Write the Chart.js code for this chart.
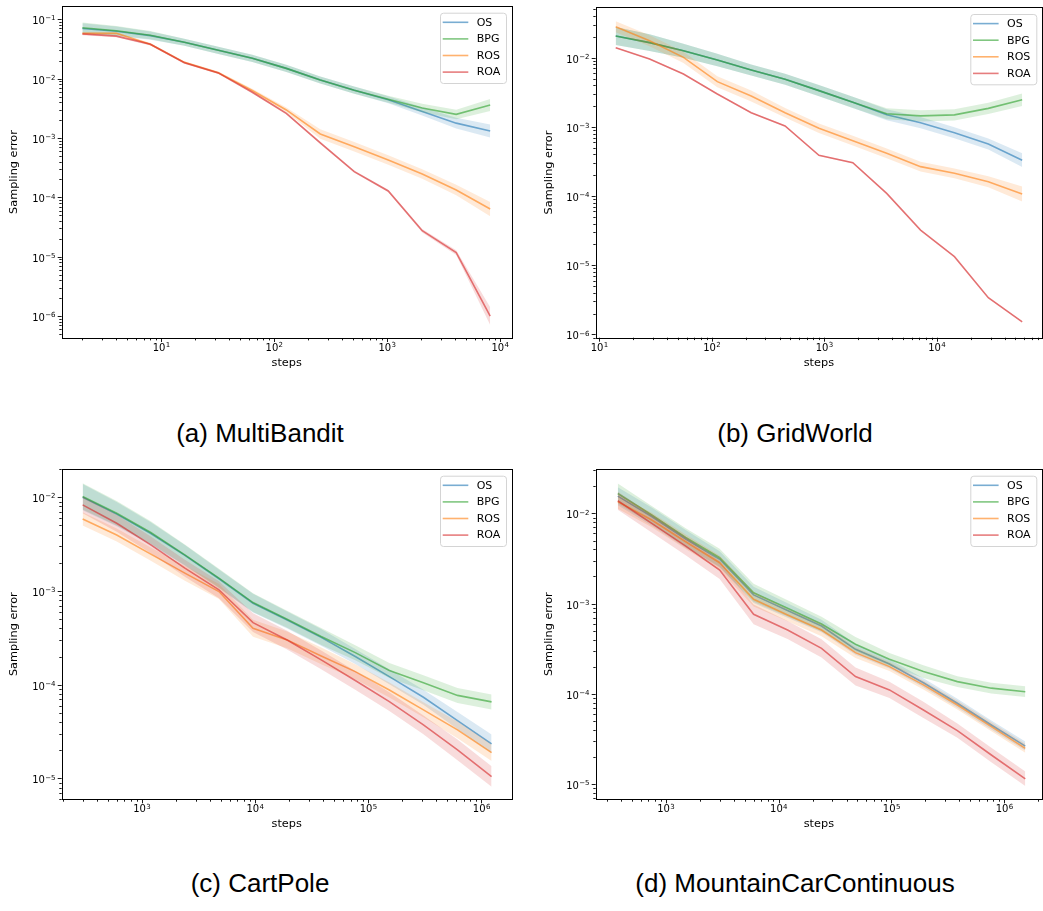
<!DOCTYPE html>
<html><head><meta charset="utf-8">
<script src="https://cdn.jsdelivr.net/npm/chart.js@4.4.1/dist/chart.umd.min.js"></script>
<style>
html,body{margin:0;padding:0;background:#fff;}
body{width:1043px;height:911px;position:relative;overflow:hidden;}
canvas{position:absolute;}
.cap{position:absolute;font-family:'Liberation Sans',Arial,sans-serif;font-size:26px;line-height:26px;white-space:nowrap;transform:translateX(-50%);color:#000;}
</style></head><body>
<canvas id="cA" width="520" height="380" style="left:0px;top:0px"></canvas>
<canvas id="cB" width="523" height="380" style="left:520px;top:0px"></canvas>
<canvas id="cC" width="520" height="380" style="left:0px;top:460px"></canvas>
<canvas id="cD" width="523" height="380" style="left:520px;top:460px"></canvas>
<div class="cap" style="left:260px;top:420px">(a) MultiBandit</div>
<div class="cap" style="left:795px;top:420px">(b) GridWorld</div>
<div class="cap" style="left:260px;top:870px">(c) CartPole</div>
<div class="cap" style="left:795px;top:870px">(d) MountainCarContinuous</div>
<script>
// ---------- data ----------
const seriesNames = ['OS', 'BPG', 'ROS', 'ROA'];
const seriesColors = ['31,119,180', '44,160,44', '255,127,14', '214,39,40'];

// (a) MultiBandit
const stepsA = [2, 4, 8, 16, 32, 64, 128, 256, 512, 1024, 2048, 4096, 8192];
const osA  = [0.070, 0.063, 0.053, 0.041, 0.030, 0.022, 0.0149, 0.0095, 0.0064, 0.0044, 0.0028, 0.00178, 0.00131];
const bpgA = [0.072, 0.064, 0.054, 0.041, 0.030, 0.022, 0.0149, 0.0095, 0.0064, 0.0045, 0.0032, 0.0025, 0.0036];
const rosA = [0.058, 0.058, 0.038, 0.0188, 0.0126, 0.0063, 0.00297, 0.00117, 0.000714, 0.000426, 0.000247, 0.000133, 0.0000635];
const roaA = [0.0565, 0.052, 0.038, 0.0186, 0.0125, 0.0059, 0.0026, 0.00083, 0.000271, 0.000128, 0.0000274, 0.0000117, 0.000001];
const osBandA  = [0.09, 0.08, 0.07, 0.06, 0.06, 0.06, 0.06, 0.06, 0.06, 0.06, 0.07, 0.09, 0.11];
const bpgBandA = [0.09, 0.08, 0.07, 0.06, 0.06, 0.06, 0.06, 0.06, 0.06, 0.06, 0.07, 0.08, 0.10];
const rosBandA = [0.02, 0.02, 0.02, 0.02, 0.02, 0.03, 0.04, 0.08, 0.08, 0.08, 0.08, 0.09, 0.12];
const roaBandA = [0.02, 0.02, 0.02, 0.02, 0.02, 0.02, 0.02, 0.02, 0.02, 0.02, 0.03, 0.04, 0.15];

// (b) GridWorld
const stepsB = [14, 28, 56, 112, 224, 448, 896, 1792, 3584, 7168, 14336, 28672, 57344];
const osB  = [0.0206, 0.0165, 0.0126, 0.00925, 0.00664, 0.00487, 0.00334, 0.00226, 0.00150, 0.00115, 0.00082, 0.000565, 0.00033];
const bpgB = [0.0206, 0.0165, 0.0126, 0.00925, 0.00664, 0.00487, 0.00334, 0.00226, 0.00155, 0.00144, 0.00149, 0.00185, 0.00247];
const rosB = [0.028, 0.0176, 0.0101, 0.0045, 0.00279, 0.0016, 0.000955, 0.000631, 0.000414, 0.000266, 0.000213, 0.000161, 0.000107];
const roaB = [0.01396, 0.00957, 0.00581, 0.00299, 0.0016, 0.00103, 0.000387, 0.000303, 0.000109, 0.0000322, 0.0000133, 0.00000339, 0.00000152];
const osBandB  = [0.13, 0.12, 0.10, 0.09, 0.08, 0.08, 0.08, 0.08, 0.08, 0.08, 0.08, 0.08, 0.10];
const bpgBandB = [0.13, 0.12, 0.10, 0.09, 0.08, 0.08, 0.08, 0.08, 0.08, 0.08, 0.08, 0.08, 0.09];
const rosBandB = [0.08, 0.08, 0.08, 0.08, 0.08, 0.07, 0.07, 0.07, 0.07, 0.07, 0.07, 0.08, 0.11];
const roaBandB = [0.01, 0.01, 0.01, 0.01, 0.01, 0.01, 0.01, 0.01, 0.01, 0.01, 0.01, 0.01, 0.01];

// (c) CartPole
const stepsC = [300, 600, 1200, 2400, 4800, 9600, 19200, 38400, 76800, 153600, 307200, 614400, 1228800];
const osC  = [0.0100, 0.0066, 0.0041, 0.0024, 0.00135, 0.00074, 0.00049, 0.00032, 0.00020, 0.000122, 0.0000736, 0.0000415, 0.0000234];
const bpgC = [0.0102, 0.00674, 0.0042, 0.00243, 0.00137, 0.000753, 0.00050, 0.000327, 0.00022, 0.000142, 0.000105, 0.000077, 0.0000656];
const rosC = [0.00587, 0.00396, 0.00247, 0.00155, 0.000986, 0.000401, 0.000301, 0.000203, 0.000138, 0.000088, 0.000054, 0.000033, 0.0000189];
const roaC = [0.00828, 0.00528, 0.0031, 0.00175, 0.00103, 0.00046, 0.00030, 0.000184, 0.000111, 0.000066, 0.0000373, 0.0000202, 0.0000105];
const osBandC  = [0.14, 0.13, 0.12, 0.11, 0.10, 0.10, 0.09, 0.09, 0.08, 0.08, 0.08, 0.09, 0.10];
const bpgBandC = [0.14, 0.13, 0.12, 0.11, 0.10, 0.10, 0.09, 0.09, 0.08, 0.08, 0.08, 0.08, 0.08];
const rosBandC = [0.07, 0.07, 0.07, 0.08, 0.08, 0.09, 0.09, 0.09, 0.08, 0.08, 0.08, 0.09, 0.09];
const roaBandC = [0.09, 0.09, 0.09, 0.09, 0.09, 0.10, 0.10, 0.10, 0.10, 0.10, 0.10, 0.11, 0.11];

// (d) MountainCarContinuous
const stepsD = [375, 750, 1500, 3000, 6000, 12000, 24000, 48000, 96000, 192000, 384000, 768000, 1536000];
const osD  = [0.0155, 0.0092, 0.0052, 0.0031, 0.00125, 0.00084, 0.000566, 0.000312, 0.000215, 0.000133, 0.000079, 0.0000454, 0.0000265];
const bpgD = [0.0166, 0.0096, 0.00542, 0.00323, 0.00132, 0.000888, 0.000595, 0.000355, 0.000242, 0.000177, 0.000137, 0.000116, 0.000106];
const rosD = [0.0135, 0.00844, 0.00485, 0.00284, 0.00112, 0.00075, 0.000511, 0.000287, 0.000201, 0.000126, 0.0000755, 0.0000435, 0.000025];
const roaD = [0.0138, 0.00775, 0.00434, 0.00236, 0.000762, 0.000511, 0.00032, 0.000156, 0.000111, 0.0000665, 0.0000393, 0.0000211, 0.0000115];
const osBandD  = [0.10, 0.10, 0.10, 0.09, 0.09, 0.08, 0.07, 0.06, 0.05, 0.05, 0.05, 0.05, 0.05];
const bpgBandD = [0.11, 0.10, 0.10, 0.10, 0.10, 0.09, 0.08, 0.08, 0.07, 0.07, 0.06, 0.06, 0.06];
const rosBandD = [0.08, 0.08, 0.08, 0.08, 0.08, 0.07, 0.07, 0.06, 0.05, 0.05, 0.05, 0.05, 0.05];
const roaBandD = [0.10, 0.10, 0.10, 0.10, 0.11, 0.10, 0.10, 0.10, 0.09, 0.09, 0.08, 0.08, 0.08];

// tick labels: base "10" with these exponents
const tickBase = '10';
const xTicksA = [1e1, 1e2, 1e3, 1e4];
const xExpA = ['1', '2', '3', '4'];
const yTicksA = [1e-6, 1e-5, 1e-4, 1e-3, 1e-2, 1e-1];
const yExpA = ['−6', '−5', '−4', '−3', '−2', '−1'];
const xTicksB = [1e1, 1e2, 1e3, 1e4];
const xExpB = ['1', '2', '3', '4'];
const yTicksB = [1e-6, 1e-5, 1e-4, 1e-3, 1e-2];
const yExpB = ['−6', '−5', '−4', '−3', '−2'];
const xTicksC = [1e3, 1e4, 1e5, 1e6];
const xExpC = ['3', '4', '5', '6'];
const yTicksC = [1e-5, 1e-4, 1e-3, 1e-2];
const yExpC = ['−5', '−4', '−3', '−2'];
const xTicksD = [1e3, 1e4, 1e5, 1e6];
const xExpD = ['3', '4', '5', '6'];
const yTicksD = [1e-5, 1e-4, 1e-3, 1e-2];
const yExpD = ['−5', '−4', '−3', '−2'];

const xTitle = 'steps';
const yTitle = 'Sampling error';

// ---------- layout / style ----------
const panels = [
  {id:'cA', W:520, H:380, steps:stepsA, means:[osA,bpgA,rosA,roaA], bands:[osBandA,bpgBandA,rosBandA,roaBandA],
   xMin:1.312, xMax:12700, yMin:4.27e-7, yMax:0.1675, xT:xTicksA, xE:xExpA, yT:yTicksA, yE:yExpA,
   area:{l:61.7, t:6, r:511.7, b:338}, yTitleX:14.5, xTitleY:363},
  {id:'cB', W:523, H:380, steps:stepsB, means:[osB,bpgB,rosB,roaB], bands:[osBandB,bpgBandB,rosBandB,roaBandB],
   xMin:9.3, xMax:86000, yMin:8.95e-7, yMax:0.0535, xT:xTicksB, xE:xExpB, yT:yTicksB, yE:yExpB,
   area:{l:75.7, t:7.3, r:522, b:337.7}, yTitleX:29.5, xTitleY:363},
  {id:'cC', W:520, H:380, steps:stepsC, means:[osC,bpgC,rosC,roaC], bands:[osBandC,bpgBandC,rosBandC,roaBandC],
   xMin:196, xMax:1.85e6, yMin:6.0e-6, yMax:0.02, xT:xTicksC, xE:xExpC, yT:yTicksC, yE:yExpC,
   area:{l:61.7, t:9, r:511.7, b:339.3}, yTitleX:14.5, xTitleY:364},
  {id:'cD', W:523, H:380, steps:stepsD, means:[osD,bpgD,rosD,roaD], bands:[osBandD,bpgBandD,rosBandD,roaBandD],
   xMin:239, xMax:2.16e6, yMin:6.82e-6, yMax:0.031, xT:xTicksD, xE:xExpD, yT:yTicksD, yE:yExpD,
   area:{l:75.7, t:9, r:522, b:339.3}, yTitleX:29.5, xTitleY:364}
];

const LABEL_FONT = {family:'DejaVu Sans', size:11.3};
const LEGEND_FONT_PX = 11;
const BASE_FONT = '10px "DejaVu Sans"';
const EXP_FONT = '7px "DejaVu Sans"';

function logTicks(min, max) {
  const t = [];
  for (let e = Math.floor(Math.log10(min)); e <= Math.ceil(Math.log10(max)); e++) {
    for (let m = 1; m <= 9; m++) {
      const v = parseFloat((m * Math.pow(10, e)).toPrecision(10));
      if (v >= min && v <= max) t.push({value: v, major: m === 1});
    }
  }
  return t;
}
function expFor(v, vals, exps) {
  for (let i = 0; i < vals.length; i++) if (Math.abs(v / vals[i] - 1) < 1e-6) return exps[i];
  return null;
}

const frame = {
  id: 'mplFrame',
  afterDraw(chart) {
    const ctx = chart.ctx, a = chart.chartArea;
    const p = chart.options.plugins.mplFrame.panel;
    ctx.save();
    ctx.strokeStyle = '#000';
    ctx.lineWidth = 0.9;
    ['x', 'y'].forEach(k => {
      const s = chart.scales[k];
      s.ticks.forEach(t => {
        const len = t.major ? 4 : 2.4;
        const pos = s.getPixelForValue(t.value);
        ctx.strokeStyle = '#000';
        ctx.lineWidth = 0.9;
        ctx.beginPath();
        if (k === 'x') { const px = Math.round(pos) + 0.5; ctx.moveTo(px, a.bottom); ctx.lineTo(px, a.bottom + len); }
        else { const py = Math.round(pos) + 0.5; ctx.moveTo(a.left, py); ctx.lineTo(a.left - len, py); }
        ctx.stroke();
        const e = k === 'x' ? expFor(t.value, p.xT, p.xE) : expFor(t.value, p.yT, p.yE);
        if (e === null) return;
        ctx.fillStyle = '#000';
        ctx.textBaseline = 'alphabetic';
        ctx.textAlign = 'left';
        ctx.font = BASE_FONT;
        const wb = ctx.measureText(tickBase).width;
        ctx.font = EXP_FONT;
        const we = ctx.measureText(e).width;
        let x0, yb;
        if (k === 'x') { x0 = pos - (wb + we) / 2; yb = a.bottom + 13; }
        else { x0 = a.left - 4 - 2.5 - (wb + we); yb = pos + 5; }
        ctx.font = BASE_FONT;
        ctx.fillText(tickBase, x0, yb);
        ctx.font = EXP_FONT;
        ctx.fillText(e, x0 + wb + 0.3, yb - 3.8);
      });
    });
    ctx.strokeStyle = '#000';
    ctx.lineWidth = 1;
    ctx.strokeRect(Math.round(a.left) + 0.5, Math.round(a.top) + 0.5, Math.round(a.right) - Math.round(a.left), Math.round(a.bottom) - Math.round(a.top));
    // legend
    const items = chart.data.datasets.filter(d => d.isMain);
    const w = 66, h = 70.3;
    const bx = a.right - 5.7 - w, by = a.top + 6.7;
    ctx.fillStyle = 'rgba(255,255,255,0.85)';
    ctx.strokeStyle = '#d4d4d4';
    ctx.lineWidth = 1;
    ctx.beginPath();
    if (ctx.roundRect) ctx.roundRect(bx + 0.5, by + 0.5, w, h, 3); else ctx.rect(bx + 0.5, by + 0.5, w, h);
    ctx.fill(); ctx.stroke();
    ctx.font = LEGEND_FONT_PX + 'px "DejaVu Sans"';
    ctx.textBaseline = 'middle';
    ctx.textAlign = 'left';
    items.forEach((d, i) => {
      const y = by + 9.6 + i * 16.6;
      ctx.strokeStyle = d.borderColor;
      ctx.lineWidth = 1.6;
      ctx.beginPath(); ctx.moveTo(bx + 2.7, y); ctx.lineTo(bx + 28.3, y); ctx.stroke();
      ctx.fillStyle = '#000';
      ctx.fillText(d.label, bx + 36.7, y + 0.5);
    });
    ctx.restore();
  }
};

function buildDatasets(p) {
  const ds = [];
  let order = 100;
  p.means.forEach((m, i) => {
    const c = seriesColors[i];
    const line = m.map((v, j) => ({x: p.steps[j], y: v}));
    const lo = m.map((v, j) => ({x: p.steps[j], y: v / Math.pow(10, p.bands[i][j])}));
    const hi = m.map((v, j) => ({x: p.steps[j], y: v * Math.pow(10, p.bands[i][j])}));
    ds.push({label: seriesNames[i], data: line, borderColor: `rgba(${c},0.6)`, borderWidth: 1.6,
             pointRadius: 0, fill: false, order: order--, isMain: true});
    ds.push({label: seriesNames[i] + ' low', data: lo, borderColor: 'rgba(0,0,0,0)', borderWidth: 0,
             pointRadius: 0, fill: false, order: order--});
    ds.push({label: seriesNames[i] + ' high', data: hi, borderColor: 'rgba(0,0,0,0)', borderWidth: 0,
             pointRadius: 0, fill: '-1', backgroundColor: `rgba(${c},0.16)`, order: order--});
  });
  return ds;
}

panels.forEach(p => {
  const lh = LABEL_FONT.size * 1.2;
  new Chart(document.getElementById(p.id), {
    type: 'line',
    data: {datasets: buildDatasets(p)},
    plugins: [frame],
    options: {
      responsive: false, animation: false, devicePixelRatio: 1, events: [],
      layout: {padding: {left: 0, top: p.area.t, right: p.W - p.area.r, bottom: 0}},
      plugins: {legend: {display: false}, tooltip: {enabled: false}, mplFrame: {panel: p}},
      scales: {
        x: {
          type: 'logarithmic', min: p.xMin, max: p.xMax, bounds: 'data', offset: false,
          grid: {display: false, drawTicks: true, tickLength: 4},
          border: {display: false},
          ticks: {display: false, autoSkip: false, maxRotation: 0, minRotation: 0},
          title: {display: true, text: xTitle, font: LABEL_FONT, color: '#000',
                  padding: {top: 0, bottom: p.H - p.xTitleY - lh / 2}},
          afterBuildTicks: s => { s.ticks = logTicks(p.xMin, p.xMax); },
          afterFit: s => { s.height = p.H - p.area.b; s.paddingLeft = 0; s.paddingRight = 0; s.paddingTop = 0; s.paddingBottom = 0; }
        },
        y: {
          type: 'logarithmic', min: p.yMin, max: p.yMax, bounds: 'data',
          grid: {display: false, drawTicks: true, tickLength: 4},
          border: {display: false},
          ticks: {display: false, autoSkip: false},
          title: {display: true, text: yTitle, font: LABEL_FONT, color: '#000',
                  padding: {top: p.yTitleX - lh / 2, bottom: 0}},
          afterBuildTicks: s => { s.ticks = logTicks(p.yMin, p.yMax); },
          afterFit: s => { s.width = p.area.l; s.paddingLeft = 0; s.paddingRight = 0; s.paddingTop = 0; s.paddingBottom = 0; }
        }
      }
    }
  });
});
</script>
</body></html>
